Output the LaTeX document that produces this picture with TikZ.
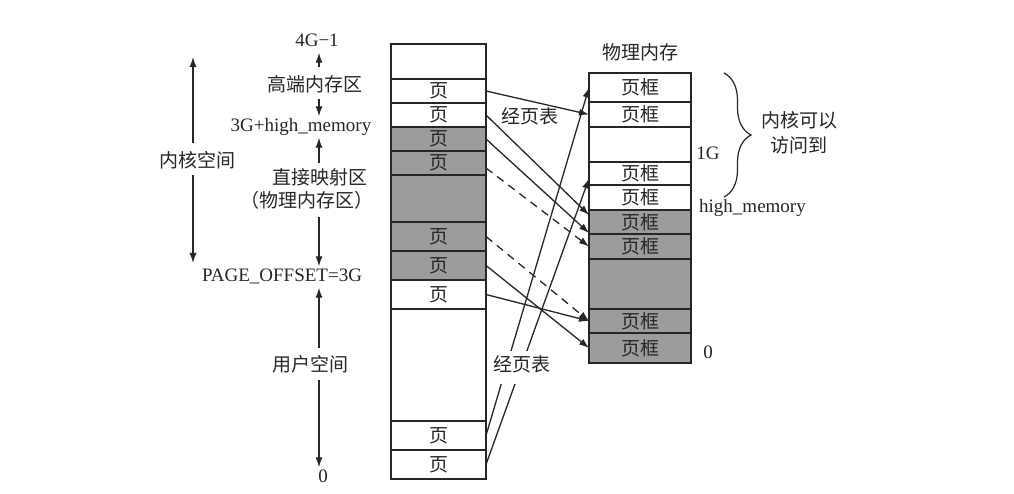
\documentclass[tikz,border=0pt]{standalone}
\usepackage{fontspec}
\setmainfont{Liberation Serif}
\newfontfamily\cjk{Noto Sans CJK SC}
\usetikzlibrary{arrows.meta,decorations.pathreplacing}
\definecolor{Paper}{HTML}{FFFFFF}
\definecolor{Ink}{HTML}{262626}
\definecolor{Shade}{HTML}{9C9C9C}

\begin{document}
\begin{tikzpicture}[x=1pt,y=-1pt,font=\fontsize{19}{22}\selectfont,
  cell/.style={draw=Ink,line width=1.5pt,inner sep=0pt,outer sep=0pt,text=Ink},
  lbl/.style={text=Ink,inner sep=2pt,text height=13pt,text depth=4pt},
  tip/.style={Ink,line width=1.3pt,-{Latex[length=10pt,width=7pt]}},
  dtip/.style={tip,dash pattern=on 8pt off 6pt}]
\fill[Paper] (0,0) rectangle (1014,494);
\useasboundingbox (0,0) rectangle (1014,494);
% virtual address space
\foreach \n/\ya/\yb/\col/\lab in {v0/44/79/Paper/{},v1/79/103/Paper/页,v2/103/127/Paper/页,v3/127/151/Shade/页,v4/151/175/Shade/页,v5/175/222/Shade/{},v6/222/251/Shade/页,v7/251/280/Shade/页,v8/280/309/Paper/页,v9/309/421/Paper/{},v10/421/450/Paper/页,v11/450/479/Paper/页}
  \node[cell,fill=\col,minimum width=95pt,minimum height={(\yb-\ya)*1pt}] (\n) at (438.5,{(\ya+\yb)/2}) {\cjk\lab};
% physical memory
\foreach \n/\ya/\yb/\col/\lab in {f1/73/102/Paper/页框,f2/102/127/Paper/页框,f3/127/162/Paper/{},f4/162/185/Paper/页框,f5/185/210/Paper/页框,f6/210/234/Shade/页框,f7/234/259/Shade/页框,f8/259/309/Shade/{},f9/309/333/Shade/页框,f10/333/363/Shade/页框}
  \node[cell,fill=\col,minimum width=102pt,minimum height={(\yb-\ya)*1pt}] (\n) at (640,{(\ya+\yb)/2}) {\cjk\lab};
% address labels
\coordinate (ax) at (319,0);
\node[lbl] (top) at (317,42){4G−1};
\node[lbl] (hi) at (315,87){\cjk 高端内存区};
\node[lbl] (hm) at (301,127){3G+high\_memory};
\node[lbl] (dm) at (320,180){\cjk 直接映射区};
\node[lbl] (pm) at (307,203){\cjk （物理内存区）};
\node[lbl] (po) at (282,277){PAGE\_OFFSET=3G};
\node[lbl] (us) at (310,367){\cjk 用户空间};
\node[lbl] (zero) at (323,478){0};
\draw[tip,shorten <=9.5pt] (ax |- hi.north) -- (ax |- top.south);
\draw[tip,shorten <=1pt] (ax |- hi.south) -- (ax |- hm.north);
\draw[tip,shorten <=6.5pt] (ax |- dm.north) -- (ax |- hm.south);
\draw[tip,shorten <=3.5pt] (ax |- pm.south) -- (ax |- po.north);
\draw[tip,shorten <=8.5pt] (ax |- us.north) -- (ax |- po.south);
\draw[tip,shorten <=2.5pt] (ax |- us.south) -- (ax |- zero.north);
\node[lbl] (ks) at (197,163){\cjk 内核空间};
\coordinate (kt) at (193,57);\coordinate (kb) at (193,263);
\draw[tip,shorten <=9.5pt] (kt |- ks.north) -- (kt);
\draw[tip,shorten <=1.5pt] (kt |- ks.south) -- (kb);
% physical side labels
\node[lbl] (pmem) at (640,55){\cjk 物理内存};
\node[lbl] (g1) at (708,155){1G};
\node[lbl,anchor=west] (hmem) at (697,208){high\_memory};
\node[lbl] (f0) at (708,354){0};
\draw[Ink,line width=1.2pt,decorate,decoration={brace,amplitude=27pt}] (724,73) -- (724,197);
\node[text=Ink,align=center,font=\fontsize{19}{25}\selectfont] (acc) at (799,133){\cjk 内核可以\\\cjk 访问到};
% page table mappings
\draw[tip] (v1.east) -- (f2.west);
\draw[tip] (v2.east) -- ([yshift=7pt]f6.west);
\draw[tip] (v3.east) -- ([yshift=1pt]f6.south west);
\draw[dtip] ([yshift=-5pt]v4.east) -- (f7.west);
\draw[dtip] (v6.east) -- (f9.west);
\draw[tip] (v7.east) -- (f10.west);
\draw[tip] (v8.east) -- (f9.west);
\draw[tip] (v10.east) -- (f1.west);
\draw[tip] (v11.east) -- ([yshift=-5pt]f4.west);
\node[lbl] (pt1) at (530,119){\cjk 经页表};
\node[lbl,fill=Paper,inner ysep=8pt] (pt2) at (522,367){\cjk 经页表};
\end{tikzpicture}
\end{document}
